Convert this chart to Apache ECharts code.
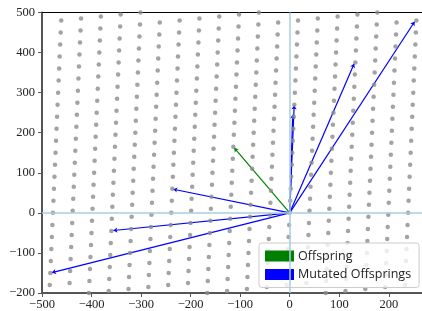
<!DOCTYPE html>
<html>
<head>
<meta charset="utf-8">
<script src="https://cdn.jsdelivr.net/npm/echarts@6/dist/echarts.min.js"></script>
<style>
  html, body { margin: 0; padding: 0; background: #fff; }
  #main { width: 422px; height: 311px; }
</style>
</head>
<body>
<div id="main"></div>
<script>
// background lattice: one dot, the step to the next column, the step to the next row
var latticeOrigin = [-478, 0];
var colStep = [40, 5];
var rowStep = [1.05, 30];

// vectors from the origin
var offspringX = [-112];
var offspringY = [162];
var mutatedX = [9, 6, 130, 252, -235, -356, -480];
var mutatedY = [268, 245, 372, 477, 59, -44, -149];

var dots = [];
for (var k = -6; k <= 24; k++) {
  for (var r = -16; r <= 24; r++) {
    dots.push([latticeOrigin[0] + k * colStep[0] + r * rowStep[0],
               latticeOrigin[1] + k * colStep[1] + r * rowStep[1]]);
  }
}

function vecs(xs, ys) {
  var out = [];
  for (var i = 0; i < xs.length; i++) out.push({ coords: [[0, 0], [xs[i], ys[i]]] });
  return out;
}

var fmt = function (v) { return v < 0 ? '\u2212' + Math.abs(v) : '' + v; };

var chart = echarts.init(document.getElementById('main'));
chart.setOption({
  animation: false,
  grid: { left: 42, right: 0, top: 12.5, bottom: 18 },
  xAxis: [{
    type: 'value', min: -500, max: 267, interval: 100,
    axisLine: { onZero: false, lineStyle: { color: '#555', width: 2 } },
    axisTick: { inside: false, length: 4, lineStyle: { color: '#555' } },
    axisLabel: { margin: 5, showMaxLabel: false, formatter: fmt,
      fontFamily: '"Liberation Serif", serif', fontSize: 12.5, color: '#222' },
    splitLine: { show: false }
  }, {
    type: 'value', position: 'top', min: -500, max: 267,
    axisLine: { onZero: false, lineStyle: { color: '#000', width: 1.2 } },
    axisTick: { show: false }, axisLabel: { show: false }, splitLine: { show: false }
  }],
  yAxis: {
    type: 'value', min: -200, max: 500, interval: 100,
    axisLine: { show: true, onZero: false, lineStyle: { color: '#555', width: 2 } },
    axisTick: { show: true, inside: false, length: 4, lineStyle: { color: '#555' } },
    axisLabel: { margin: 7, formatter: fmt,
      fontFamily: '"Liberation Serif", serif', fontSize: 12.5, color: '#222' },
    splitLine: { show: false }
  },
  legend: {
    orient: 'vertical', left: 259, top: 243,
    padding: [6, 8, 6, 6], itemGap: 4.5,
    itemWidth: 27, itemHeight: 9, icon: 'rect',
    backgroundColor: 'rgba(255,255,255,0.8)',
    borderColor: '#ccc', borderWidth: 1, borderRadius: 3,
    textStyle: { fontFamily: 'Open Sans', fontSize: 12.5, color: '#222', lineHeight: 14 },
    data: ['Offspring', 'Mutated Offsprings']
  },
  series: [{
    type: 'scatter', data: dots, symbolSize: 4.5, clip: true, silent: true,
    itemStyle: { color: '#8c8c8c' },
    markLine: {
      silent: true, symbol: 'none', label: { show: false },
      lineStyle: { color: '#a9cce2', width: 1.5, type: 'solid' },
      data: [{ xAxis: 0 }, { yAxis: 0 }]
    }
  }, {
    name: 'Offspring', type: 'lines', coordinateSystem: 'cartesian2d',
    color: '#008000', data: vecs(offspringX, offspringY),
    symbol: ['none', 'arrow'], symbolSize: 4,
    lineStyle: { color: '#008000', width: 1.2, opacity: 1 }
  }, {
    name: 'Mutated Offsprings', type: 'lines', coordinateSystem: 'cartesian2d',
    color: '#0000ff', data: vecs(mutatedX, mutatedY),
    symbol: ['none', 'arrow'], symbolSize: 4,
    lineStyle: { color: '#0000ff', width: 1.2, opacity: 1 }
  }]
});
</script>
</body>
</html>
